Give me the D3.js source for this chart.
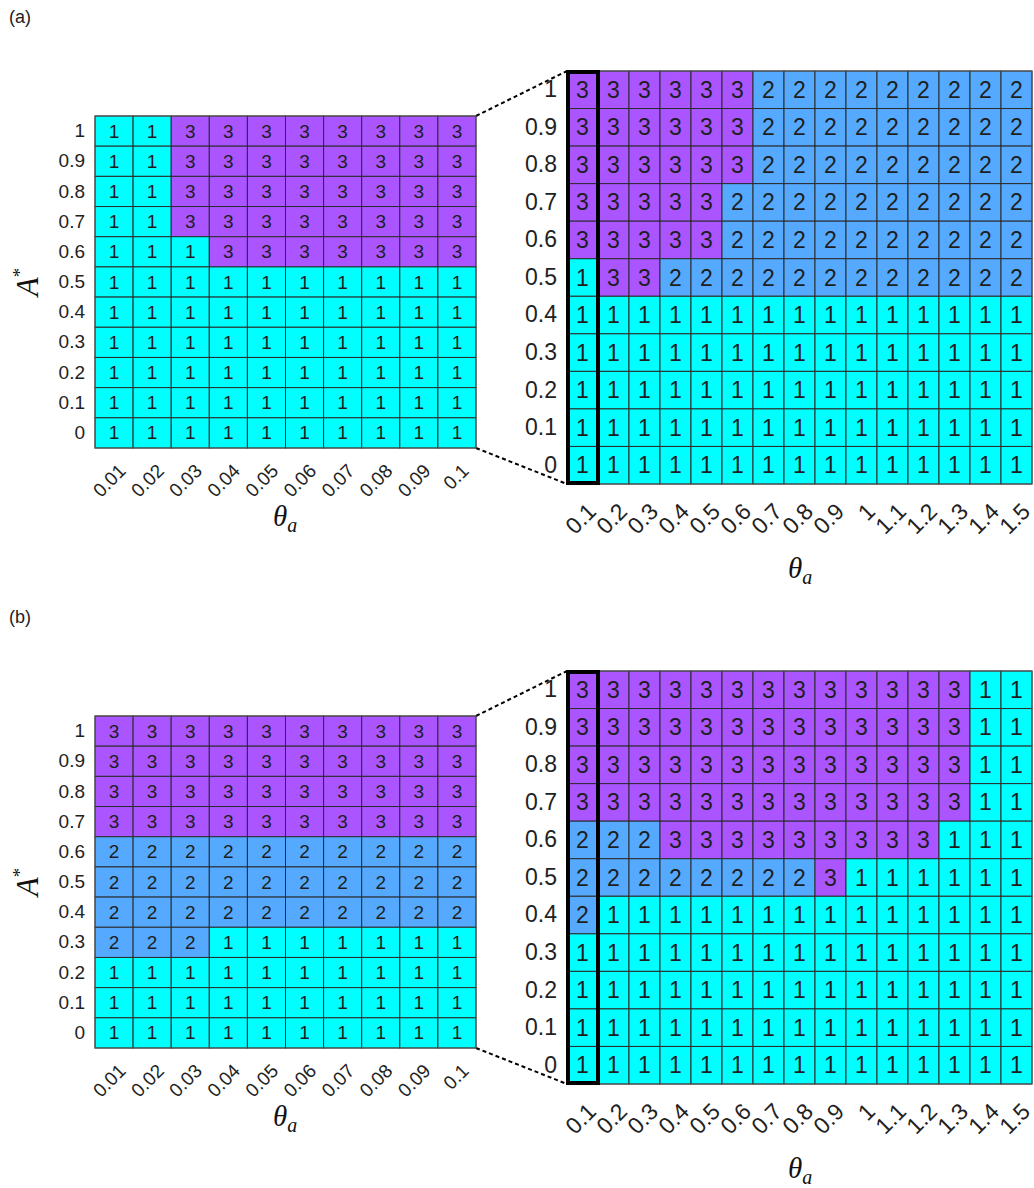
<!DOCTYPE html>
<html>
<head>
<meta charset="utf-8">
<script src="https://cdn.jsdelivr.net/npm/d3@7"></script>
<style>
  html, body { margin: 0; padding: 0; background: #fff; }
  svg { display: block; }
</style>
</head>
<body>
<script>
// ---------------- DATA ----------------
const A_LABELS = ["1", "0.9", "0.8", "0.7", "0.6", "0.5", "0.4", "0.3", "0.2", "0.1", "0"]; // top -> bottom
const THETA_SMALL = ["0.01", "0.02", "0.03", "0.04", "0.05", "0.06", "0.07", "0.08", "0.09", "0.1"];
const THETA_LARGE = ["0.1", "0.2", "0.3", "0.4", "0.5", "0.6", "0.7", "0.8", "0.9", "1", "1.1", "1.2", "1.3", "1.4", "1.5"];

// rows listed top (A*=1) to bottom (A*=0)
const A_SMALL = [
  [1, 1, 3, 3, 3, 3, 3, 3, 3, 3],
  [1, 1, 3, 3, 3, 3, 3, 3, 3, 3],
  [1, 1, 3, 3, 3, 3, 3, 3, 3, 3],
  [1, 1, 3, 3, 3, 3, 3, 3, 3, 3],
  [1, 1, 1, 3, 3, 3, 3, 3, 3, 3],
  [1, 1, 1, 1, 1, 1, 1, 1, 1, 1],
  [1, 1, 1, 1, 1, 1, 1, 1, 1, 1],
  [1, 1, 1, 1, 1, 1, 1, 1, 1, 1],
  [1, 1, 1, 1, 1, 1, 1, 1, 1, 1],
  [1, 1, 1, 1, 1, 1, 1, 1, 1, 1],
  [1, 1, 1, 1, 1, 1, 1, 1, 1, 1]
];
const A_LARGE = [
  [3, 3, 3, 3, 3, 3, 2, 2, 2, 2, 2, 2, 2, 2, 2],
  [3, 3, 3, 3, 3, 3, 2, 2, 2, 2, 2, 2, 2, 2, 2],
  [3, 3, 3, 3, 3, 3, 2, 2, 2, 2, 2, 2, 2, 2, 2],
  [3, 3, 3, 3, 3, 2, 2, 2, 2, 2, 2, 2, 2, 2, 2],
  [3, 3, 3, 3, 3, 2, 2, 2, 2, 2, 2, 2, 2, 2, 2],
  [1, 3, 3, 2, 2, 2, 2, 2, 2, 2, 2, 2, 2, 2, 2],
  [1, 1, 1, 1, 1, 1, 1, 1, 1, 1, 1, 1, 1, 1, 1],
  [1, 1, 1, 1, 1, 1, 1, 1, 1, 1, 1, 1, 1, 1, 1],
  [1, 1, 1, 1, 1, 1, 1, 1, 1, 1, 1, 1, 1, 1, 1],
  [1, 1, 1, 1, 1, 1, 1, 1, 1, 1, 1, 1, 1, 1, 1],
  [1, 1, 1, 1, 1, 1, 1, 1, 1, 1, 1, 1, 1, 1, 1]
];
const B_SMALL = [
  [3, 3, 3, 3, 3, 3, 3, 3, 3, 3],
  [3, 3, 3, 3, 3, 3, 3, 3, 3, 3],
  [3, 3, 3, 3, 3, 3, 3, 3, 3, 3],
  [3, 3, 3, 3, 3, 3, 3, 3, 3, 3],
  [2, 2, 2, 2, 2, 2, 2, 2, 2, 2],
  [2, 2, 2, 2, 2, 2, 2, 2, 2, 2],
  [2, 2, 2, 2, 2, 2, 2, 2, 2, 2],
  [2, 2, 2, 1, 1, 1, 1, 1, 1, 1],
  [1, 1, 1, 1, 1, 1, 1, 1, 1, 1],
  [1, 1, 1, 1, 1, 1, 1, 1, 1, 1],
  [1, 1, 1, 1, 1, 1, 1, 1, 1, 1]
];
const B_LARGE = [
  [3, 3, 3, 3, 3, 3, 3, 3, 3, 3, 3, 3, 3, 1, 1],
  [3, 3, 3, 3, 3, 3, 3, 3, 3, 3, 3, 3, 3, 1, 1],
  [3, 3, 3, 3, 3, 3, 3, 3, 3, 3, 3, 3, 3, 1, 1],
  [3, 3, 3, 3, 3, 3, 3, 3, 3, 3, 3, 3, 3, 1, 1],
  [2, 2, 2, 3, 3, 3, 3, 3, 3, 3, 3, 3, 1, 1, 1],
  [2, 2, 2, 2, 2, 2, 2, 2, 3, 1, 1, 1, 1, 1, 1],
  [2, 1, 1, 1, 1, 1, 1, 1, 1, 1, 1, 1, 1, 1, 1],
  [1, 1, 1, 1, 1, 1, 1, 1, 1, 1, 1, 1, 1, 1, 1],
  [1, 1, 1, 1, 1, 1, 1, 1, 1, 1, 1, 1, 1, 1, 1],
  [1, 1, 1, 1, 1, 1, 1, 1, 1, 1, 1, 1, 1, 1, 1],
  [1, 1, 1, 1, 1, 1, 1, 1, 1, 1, 1, 1, 1, 1, 1]
];
const STATES = [1, 2, 3];
const STATE_COLORS = ["#00FFFF", "#55AAFF", "#AA55FF"];
const HIGHLIGHT_THETA = "0.1";
const PANEL_TITLES = ["(a)", "(b)"];

// ---------------- DRAW ----------------
const W = 1034, H = 1188;
const svg = d3.select("body").append("svg").attr("width", W).attr("height", H);
const color = d3.scaleOrdinal().domain(STATES).range(STATE_COLORS);
const SANS = "'Liberation Sans', Arial, Helvetica, sans-serif";
const SERIF = "'Liberation Serif', 'DejaVu Serif', serif";

function heat(g, box, xLabels, grid, opt) {
  const x = d3.scaleBand().domain(xLabels).range([box.x, box.x + box.w]);
  const y = d3.scaleBand().domain(A_LABELS).range([box.y, box.y + box.h]);
  const cells = [];
  grid.forEach((row, i) => row.forEach((v, j) => cells.push({ a: A_LABELS[i], t: xLabels[j], v })));

  g.append("g").selectAll("rect").data(cells).join("rect")
    .attr("x", d => x(d.t)).attr("y", d => y(d.a))
    .attr("width", x.bandwidth()).attr("height", y.bandwidth())
    .attr("fill", d => color(d.v))
    .attr("stroke", "#2b2b2b").attr("stroke-width", 1);

  g.append("g").selectAll("text").data(cells).join("text")
    .attr("x", d => x(d.t) + x.bandwidth() / 2)
    .attr("y", d => y(d.a) + y.bandwidth() / 2)
    .attr("text-anchor", "middle").attr("dominant-baseline", "central")
    .attr("font-family", SANS).attr("font-size", opt.cellFont).attr("fill", "#1e1e1e")
    .text(d => d.v);

  g.append("rect").attr("x", box.x).attr("y", box.y).attr("width", box.w).attr("height", box.h)
    .attr("fill", "none").attr("stroke", "#555").attr("stroke-width", 1);

  // y axis
  const ya = g.append("g").attr("transform", `translate(${box.x},0)`)
    .call(d3.axisLeft(y).tickSize(0).tickPadding(opt.yPad));
  ya.select(".domain").remove();
  ya.selectAll("text").attr("font-family", SANS).attr("font-size", opt.tickFont).attr("fill", "#222");

  // x axis
  const xa = g.append("g").attr("transform", `translate(0,${box.y + box.h})`)
    .call(d3.axisBottom(x).tickSize(0));
  xa.select(".domain").remove();
  xa.selectAll("text")
    .attr("x", 0).attr("y", 0).attr("dy", 0)
    .attr("text-anchor", "end")
    .attr("transform", `translate(${opt.xOff[0]},${opt.xOff[1]}) rotate(-45)`)
    .attr("font-family", SANS).attr("font-size", opt.tickFont).attr("fill", "#222");

  if (opt.highlight) {
    g.append("rect")
      .attr("x", x(opt.highlight) + 1).attr("y", box.y + 1)
      .attr("width", x.bandwidth() - 1).attr("height", box.h - 2)
      .attr("fill", "none").attr("stroke", "#000").attr("stroke-width", 4);
  }
  return { x, y };
}

function thetaLabel(g, cx, by) {
  const t = g.append("text").attr("x", cx).attr("y", by).attr("text-anchor", "middle")
    .attr("font-family", SERIF).attr("font-style", "italic").attr("font-size", 29).attr("fill", "#111");
  t.append("tspan").text("θ");
  t.append("tspan").attr("font-size", 20).attr("dy", 6).text("a");
}

function panel(offY, smallGrid, largeGrid, title) {
  const g = svg.append("g").attr("transform", `translate(0,${offY})`);
  g.append("text").attr("x", 9).attr("y", 23).attr("font-family", SANS).attr("font-size", 18)
    .attr("fill", "#222").text(title);

  const left = { x: 95, y: 116, w: 381, h: 332 };
  const right = { x: 567, y: 71, w: 465, h: 413 };

  // dashed zoom connectors
  g.append("line").attr("x1", left.x + left.w).attr("y1", left.y).attr("x2", right.x).attr("y2", right.y)
    .attr("stroke", "#000").attr("stroke-width", 2).attr("stroke-dasharray", "4,3");
  g.append("line").attr("x1", left.x + left.w).attr("y1", left.y + left.h).attr("x2", right.x).attr("y2", right.y + right.h)
    .attr("stroke", "#000").attr("stroke-width", 2).attr("stroke-dasharray", "4,3");

  heat(g, left, THETA_SMALL, smallGrid, { cellFont: 19, tickFont: 19, yPad: 10, xOff: [13, 24] });
  heat(g, right, THETA_LARGE, largeGrid, { cellFont: 23, tickFont: 23, yPad: 10, xOff: [15, 29], highlight: HIGHLIGHT_THETA });

  // A* label
  const at = g.append("text").attr("transform", "translate(38,282) rotate(-90)")
    .attr("text-anchor", "middle").attr("font-family", SERIF).attr("font-style", "italic")
    .attr("font-size", 31).attr("fill", "#111");
  at.append("tspan").text("A");
  at.append("tspan").attr("font-size", 19).attr("dy", -12).attr("font-style", "normal").text("*");

  thetaLabel(g, 285, 526);
  thetaLabel(g, 800, 578);
}

panel(0, A_SMALL, A_LARGE, PANEL_TITLES[0]);
panel(600, B_SMALL, B_LARGE, PANEL_TITLES[1]);
</script>
</body>
</html>
